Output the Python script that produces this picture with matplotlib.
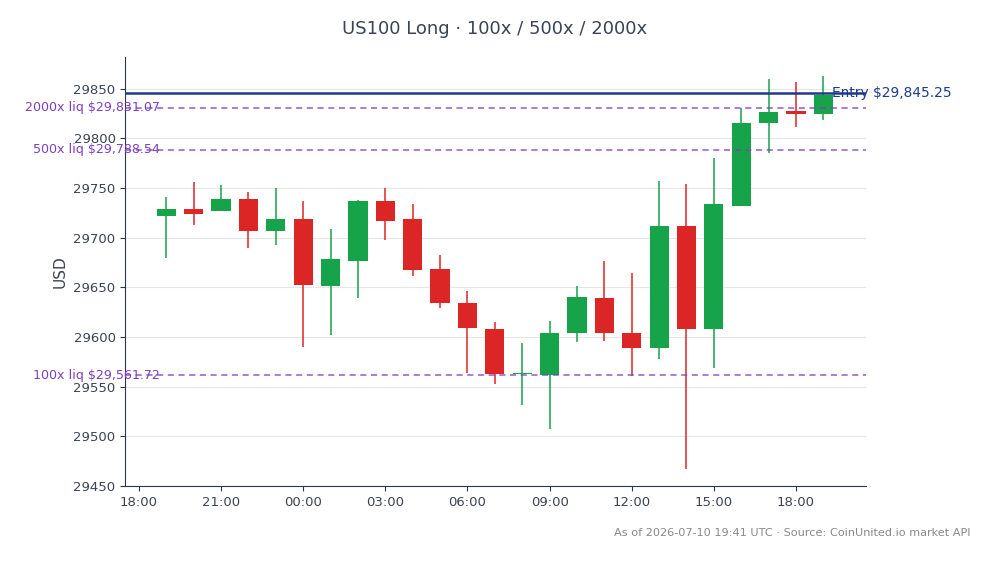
import matplotlib
matplotlib.use("Agg")
import matplotlib.pyplot as plt
import matplotlib.dates as mdates
import pandas as pd

# hourly candles, 2026-07-09 19:00 -> 2026-07-10 19:00 UTC
times = pd.date_range("2026-07-09 19:00", periods=25, freq="h")
opens = [29722.0, 29728.8, 29727.1, 29738.9, 29706.9, 29718.7, 29651.3, 29677.0, 29736.9,
         29718.7, 29668.2, 29634.6, 29608.6, 29562.6, 29562.1, 29604.0, 29638.9, 29604.5,
         29588.7, 29711.6, 29608.0, 29732.1, 29815.3, 29827.8, 29824.4]
highs = [29741.2, 29756.4, 29753.0, 29746.0, 29749.7, 29737.2, 29709.3, 29737.9, 29749.7,
         29734.5, 29682.3, 29646.3, 29615.0, 29593.7, 29616.7, 29651.3, 29676.6, 29664.1,
         29757.4, 29754.0, 29780.3, 29830.5, 29860.1, 29857.1, 29862.4]
lows = [29679.6, 29712.6, 29727.1, 29689.7, 29692.4, 29589.7, 29602.5, 29639.2, 29697.5,
        29661.1, 29629.0, 29564.4, 29552.7, 29531.8, 29507.9, 29594.8, 29595.8, 29560.4,
        29578.0, 29467.5, 29568.9, 29732.1, 29785.7, 29811.9, 29818.7]
closes = [29728.5, 29724.0, 29738.9, 29706.9, 29718.7, 29652.7, 29678.3, 29737.2, 29717.0,
          29667.9, 29634.1, 29608.9, 29562.8, 29563.0, 29604.5, 29639.9, 29603.9, 29588.7,
          29711.6, 29607.9, 29733.8, 29815.3, 29826.8, 29824.1, 29843.9]

entry = 29845.25
liq_names = ["100x", "500x", "2000x"]
liq_prices = [29561.72, 29788.54, 29831.07]

GREEN = "#16a34a"
RED = "#dc2626"
BLUE = "#1e3a8a"
PURPLE = "#7e3fc2"
TEXT = "#3b4452"

fig = plt.figure(figsize=(9.94, 5.64), dpi=100)
ax = fig.add_axes([0.126, 0.138, 0.745, 0.761])

hour = 1 / 24
w = 0.7 * hour
xs = mdates.date2num(times.to_pydatetime())
for x, o, h, l, c in zip(xs, opens, highs, lows, closes):
    col = GREEN if c >= o else RED
    ax.vlines(x, l, h, color=col, linewidth=1.1, zorder=2)
    body = max(abs(c - o), 1.0)
    ax.bar(x, body, bottom=min(o, c), width=w, color=col, linewidth=0, zorder=3)

ax.axhline(entry, color=BLUE, linewidth=1.8, zorder=4)
ax.text(xs[-1] + 0.3 * hour, entry, f"Entry ${entry:,.2f}", color=BLUE,
        fontsize=9.9, ha="left", va="center", zorder=5)
for name, p in zip(liq_names, liq_prices):
    ax.axhline(p, color=PURPLE, linewidth=1.1, linestyle=(0, (4, 3)), alpha=0.85, zorder=4)
    ax.text(xs[0] - 0.25 * hour, p, f"{name} liq ${p:,.2f}", color=PURPLE,
            fontsize=9.1, ha="right", va="center", zorder=5, clip_on=False)

ax.set_xlim(xs[0] - 1.5 * hour, xs[-1] + 1.55 * hour)
ax.set_ylim(29450, 29882)
ax.set_yticks([29450, 29500, 29550, 29600, 29650, 29700, 29750, 29800, 29850])
ax.xaxis.set_major_locator(mdates.HourLocator(byhour=range(0, 24, 3)))
ax.xaxis.set_major_formatter(mdates.DateFormatter("%H:%M"))

ax.grid(axis="y", color="#e6e6e6", linewidth=0.8)
ax.set_axisbelow(True)
for s in ["top", "right"]:
    ax.spines[s].set_visible(False)
for s in ["left", "bottom"]:
    ax.spines[s].set_color("#2d3748")
ax.tick_params(colors=TEXT, labelsize=9.5)
ax.tick_params(axis="both", color="#2d3748")
ax.set_ylabel("USD", color=TEXT, fontsize=11)

fig.suptitle("US100 Long · 100x / 500x / 2000x", x=0.498, y=0.965, fontsize=13, color=TEXT)
fig.text(0.976, 0.055, "As of 2026-07-10 19:41 UTC · Source: CoinUnited.io market API",
         ha="right", va="center", fontsize=8.15, color="#888888")

fig.savefig("out.png", dpi=100)
